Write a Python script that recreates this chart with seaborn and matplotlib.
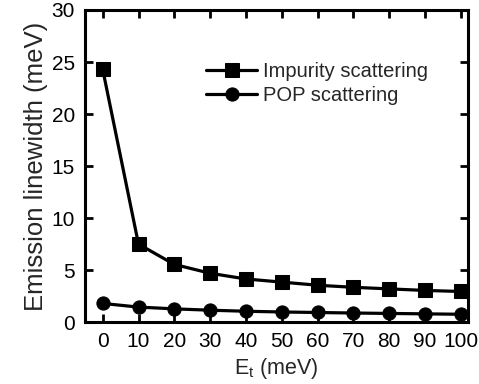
import matplotlib
matplotlib.use("Agg")
import matplotlib.pyplot as plt
import seaborn as sns
import pandas as pd

sns.set_theme(style="ticks")
plt.rcParams['font.family'] = ['Liberation Sans', 'DejaVu Sans']
plt.rcParams['mathtext.default'] = 'regular'

energy = [0, 10, 20, 30, 40, 50, 60, 70, 80, 90, 100]
impurity = [24.3, 7.5, 5.55, 4.7, 4.15, 3.85, 3.55, 3.35, 3.2, 3.05, 2.95]
pop = [1.8, 1.45, 1.28, 1.15, 1.05, 0.98, 0.93, 0.88, 0.84, 0.80, 0.76]
xticks = list(range(0, 101, 10))
yticks = list(range(0, 31, 5))

df = pd.DataFrame({
    'E': energy * 2,
    'w': impurity + pop,
    'series': ['Impurity scattering'] * len(energy) + ['POP scattering'] * len(energy),
})

fig = plt.figure(figsize=(4.79, 3.84), dpi=100)
ax = fig.add_axes([0.177, 0.161, 0.800, 0.813])

sns.lineplot(data=df, x='E', y='w', style='series',
             markers={'Impurity scattering': 's', 'POP scattering': 'o'},
             dashes=False, color='black', linewidth=2.3, markersize=9.5,
             markeredgecolor='black', ax=ax)

ax.set_xlim(-5, 102)
ax.set_ylim(0, 30)
ax.set_xticks(xticks)
ax.set_yticks(yticks)
ax.tick_params(direction='in', top=True, right=True, length=6, width=2,
               labelsize=15, colors='black', pad=7)
for s in ax.spines.values():
    s.set_linewidth(2.2)
    s.set_color('black')
ax.set_xlabel(r'E$_{t}$ (meV)', fontsize=15.5, labelpad=4)
ax.set_ylabel('Emission linewidth (meV)', fontsize=18.5, labelpad=3)

leg = ax.legend(title=None, frameon=False, fontsize=14.5, handlelength=2.5,
                handletextpad=0.3, labelspacing=0.25,
                loc='upper left', bbox_to_anchor=(0.27, 0.89))

fig.savefig('out.png', dpi=100)
